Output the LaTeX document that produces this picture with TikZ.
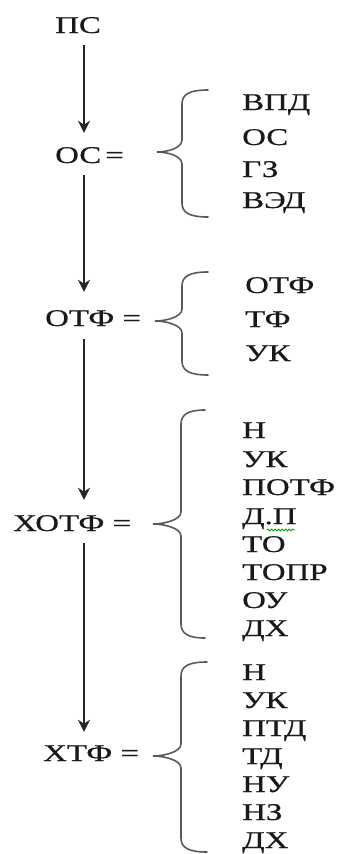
\documentclass[tikz,border=0pt]{standalone}
\usepackage{fontspec}
\setmainfont[FakeStretch=1.37,FakeBold=0.6]{Liberation Serif}
\usetikzlibrary{arrows.meta,decorations.pathmorphing}
\tikzset{
  lbl/.style={inner sep=0pt, anchor=base west, text height=17pt, text depth=5pt,
    font=\fontsize{24}{28}\selectfont, text=black!90},
  flow/.style={draw=black!85, line width=1.8pt, -{Stealth[length=12pt,width=12pt]}},
  bracepath/.style={draw=black!65, line width=1.6pt, line cap=round},
  squiggle/.style={draw=green!60!black, line width=0.8pt,
    decorate, decoration={snake, amplitude=1pt, segment length=3.5pt}},
}
% #1 xtip, #2 xvert, #3 xend, #4 ytop, #5 ytip, #6 ybot
\newcommand\cbrace[6]{%
  \draw[bracepath] (#3,#4) .. controls ({#2+8},#4) and (#2,{#4+4}) .. (#2,{#4+14})
    -- (#2,{#5-12}) .. controls (#2,{#5-4}) and ({#1+11},#5) .. (#1,#5)
    .. controls ({#1+11},#5) and (#2,{#5+4}) .. (#2,{#5+12})
    -- (#2,{#6-14}) .. controls (#2,{#6-4}) and ({#2+8},#6) .. (#3,#6);}
\begin{document}
\begin{tikzpicture}[x=1pt,y=-1pt]
\useasboundingbox (0,0) rectangle (337,854);
\coordinate (spine) at (84,0);
% main chain
\node[lbl] (ps)   at (55,33)  {ПС};
\node[lbl] (os)   at (55,163) {ОС\hspace{4pt}=};
\node[lbl] (otf)  at (45,326) {ОТФ =};
\node[lbl] (hotf) at (13,531) {ХОТФ =};
\node[lbl] (htf)  at (43,761) {ХТФ =};
\draw[flow, shorten <=7pt, shorten >=13pt] (ps.south -| spine) -- (os.north -| spine);
\draw[flow, shorten <=7pt, shorten >=17pt] (os.south -| spine) -- (otf.north -| spine);
\draw[flow, shorten <=8pt, shorten >=14pt] (otf.south -| spine) -- (hotf.north -| spine);
\draw[flow, shorten <=7pt, shorten >=12pt] (hotf.south -| spine) -- (htf.north -| spine);
% braces
\cbrace{157}{182}{208}{90}{152}{217}
\cbrace{155}{182}{208}{272}{321}{375}
\cbrace{153}{181}{205}{410}{524}{638}
\cbrace{153}{181}{207}{662}{756}{852}
% group 1
\node[lbl] (a1) at (242,110) {ВПД};
\node[lbl] (a2) at (242,145) {ОС};
\node[lbl] (a3) at (242,177) {ГЗ};
\node[lbl] (a4) at (242,208) {ВЭД};
% group 2
\node[lbl] (b1) at (245,293) {ОТФ};
\node[lbl] (b2) at (245,327) {ТФ};
\node[lbl] (b3) at (245,361) {УК};
% group 3
\node[lbl] (c1) at (242,438) {Н};
\node[lbl] (c2) at (242,467) {УК};
\node[lbl] (c3) at (242,495) {ПОТФ};
\node[lbl] (c4) at (242,524) {Д.П};
\node[lbl] (c5) at (242,552) {ТО};
\node[lbl] (c6) at (242,580) {ТОПР};
\node[lbl] (c7) at (242,608) {ОУ};
\node[lbl] (c8) at (242,636) {ДХ};
\draw[squiggle] (267,530) -- (295,530);
% group 4
\node[lbl] (d1) at (242,680) {Н};
\node[lbl] (d2) at (242,708) {УК};
\node[lbl] (d3) at (242,736) {ПТД};
\node[lbl] (d4) at (242,764) {ТД};
\node[lbl] (d5) at (242,792) {НУ};
\node[lbl] (d6) at (242,820) {НЗ};
\node[lbl] (d7) at (242,848) {ДХ};
\end{tikzpicture}
\end{document}
